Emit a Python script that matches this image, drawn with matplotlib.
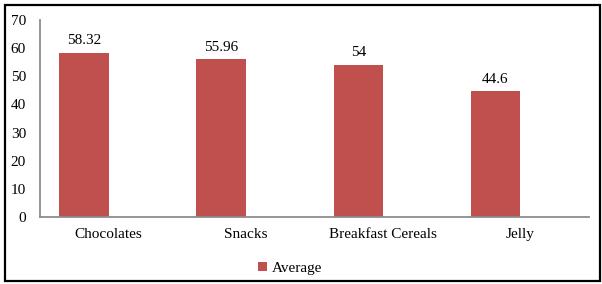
import numpy as np
import matplotlib.pyplot as plt
from matplotlib.patches import Rectangle

categories = ['Chocolates', 'Snacks', 'Breakfast Cereals', 'Jelly']
average = [58.32, 55.96, 54, 44.6]
value_labels = ['58.32', '55.96', '54', '44.6']

plt.rcParams['font.family'] = ['Liberation Serif', 'DejaVu Serif']

fig = plt.figure(figsize=(6.02, 2.84), dpi=100)
ax = fig.add_axes([0.0664, 0.236, 0.9116, 0.694])

x = np.arange(len(categories))
w = 0.36
bars = ax.bar(x - w / 2, average, width=w, color='#C0504D', label='Average')
for b, lab in zip(bars, value_labels):
    ax.annotate(lab, (b.get_x() + b.get_width() / 2, b.get_height()),
                xytext=(0, 4), textcoords='offset points',
                ha='center', va='bottom', fontsize=11)

ax.set_xlim(-0.5, 3.5)
ax.set_ylim(0, 70)
ax.set_yticks(range(0, 71, 10))
ax.set_xticks(x)
ax.set_xticklabels(categories, fontsize=11)
ax.tick_params(axis='y', length=0, pad=10, labelsize=11)
ax.tick_params(axis='x', length=0, pad=8)
for s in ['top', 'right']:
    ax.spines[s].set_visible(False)
ax.spines['left'].set_color('#8c8c8c')
ax.spines['bottom'].set_color('#8c8c8c')
ax.spines['left'].set_linewidth(1.3)
ax.spines['bottom'].set_linewidth(1.3)

fig.legend(loc='center', bbox_to_anchor=(0.482, 0.055), frameon=False,
           fontsize=11, handlelength=0.55, handleheight=0.55, handletextpad=0.3)

fig.patches.append(Rectangle((0.008, 0.012), 0.988, 0.972, transform=fig.transFigure,
                             fill=False, edgecolor='black', linewidth=1.6))

fig.savefig('out.png', dpi=100)
